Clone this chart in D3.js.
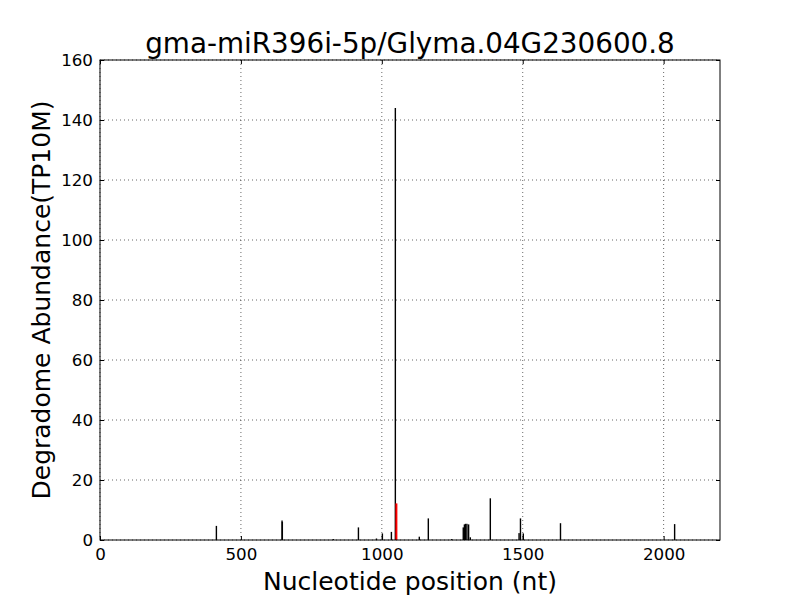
<!DOCTYPE html>
<html><head><meta charset="utf-8">
<script src="https://cdn.jsdelivr.net/npm/d3@7"></script>
<style>body{margin:0;background:#fff;} svg{display:block;font-family:"DejaVu Sans",sans-serif;}</style>
</head><body>
<svg id="c" width="800" height="600"></svg>
<script>
const title = "gma-miR396i-5p/Glyma.04G230600.8";
const xLabel = "Nucleotide position (nt)";
const yLabel = "Degradome Abundance(TP10M)";
const positions = [413, 646, 647, 828, 917, 981, 1002, 1034, 1048, 1133, 1165, 1248, 1289, 1293, 1297, 1302, 1308, 1314, 1385, 1487, 1492, 1502, 1634, 2039];
const values    = [4.7, 6.5, 6.0, 0.3, 4.2, 0.5, 2.2, 2.7, 144, 1.1, 7.2, 0.3, 4.2, 5.2, 5.4, 5.4, 5.2, 0.9, 13.9, 2.3, 7.2, 2.2, 5.6, 5.3];
const targetPos = [1051];
const targetVal = [12.2];
const xTicks = [0, 500, 1000, 1500, 2000];
const yTicks = [0, 20, 40, 60, 80, 100, 120, 140, 160];
const xMax = 2200, yMax = 160;

const svg = d3.select("#c");
const L = 100, R = 720, T = 60, B = 540;
const x = d3.scaleLinear().domain([0, xMax]).range([L, R]);
const y = d3.scaleLinear().domain([0, yMax]).range([B, T]);

// grid
const g = svg.append("g");
xTicks.forEach(t => g.append("line").attr("x1", x(t)).attr("x2", x(t)).attr("y1", T).attr("y2", B)
  .attr("stroke", "#000").attr("stroke-width", 0.6).attr("stroke-dasharray", "1,3"));
yTicks.forEach(t => g.append("line").attr("x1", L).attr("x2", R).attr("y1", y(t)).attr("y2", y(t))
  .attr("stroke", "#000").attr("stroke-width", 0.6).attr("stroke-dasharray", "1,3"));

// bars
const data = positions.map((p, i) => ({p, v: values[i]}));
svg.append("g").selectAll("rect").data(data).enter().append("rect")
  .attr("x", d => x(d.p) - 0.7).attr("width", 1.4)
  .attr("y", d => y(d.v)).attr("height", d => B - y(d.v)).attr("fill", "#000");
const tdata = targetPos.map((p, i) => ({p, v: targetVal[i]}));
svg.append("g").selectAll("rect").data(tdata).enter().append("rect")
  .attr("x", d => x(d.p) - 0.8).attr("width", 2)
  .attr("y", d => y(d.v)).attr("height", d => B - y(d.v)).attr("fill", "#ff0000");

// axes
const fmt = d3.format("d");
const axB = d3.axisBottom(x).tickValues(xTicks).tickFormat(fmt).tickSizeInner(-4).tickSizeOuter(0).tickPadding(8);
const axT = d3.axisTop(x).tickValues(xTicks).tickSizeInner(-4).tickSizeOuter(0).tickFormat("");
const axL = d3.axisLeft(y).tickValues(yTicks).tickFormat(fmt).tickSizeInner(-4).tickSizeOuter(0).tickPadding(7);
const axR = d3.axisRight(y).tickValues(yTicks).tickSizeInner(-4).tickSizeOuter(0).tickFormat("");
function style(sel){
  sel.attr("font-size", null).attr("font-family", null);
  sel.select(".domain").remove();
  sel.selectAll("line").attr("stroke", "#000").attr("stroke-width", 1);
  sel.selectAll("text").style("font-family", "DejaVu Sans").style("font-size", "16.7px").attr("fill", "#000");
}
svg.append("g").attr("transform", `translate(0,${B})`).call(axB).call(style);
svg.append("g").attr("transform", `translate(0,${T})`).call(axT).call(style);
svg.append("g").attr("transform", `translate(${L},0)`).call(axL).call(style);
svg.append("g").attr("transform", `translate(${R},0)`).call(axR).call(style);

svg.append("rect").attr("x", L).attr("y", T).attr("width", R - L).attr("height", B - T)
  .attr("fill", "none").attr("stroke", "#000").attr("stroke-width", 1);

svg.append("text").attr("x", (L + R) / 2).attr("y", 53).attr("text-anchor", "middle")
  .style("font-size", "27.8px").text(title);
svg.append("text").attr("x", (L + R) / 2).attr("y", 590).attr("text-anchor", "middle")
  .style("font-size", "25px").text(xLabel);
svg.append("text").attr("transform", `translate(50,${(T + B) / 2}) rotate(-90)`).attr("text-anchor", "middle")
  .style("font-size", "25px").text(yLabel);
</script>
</body></html>
